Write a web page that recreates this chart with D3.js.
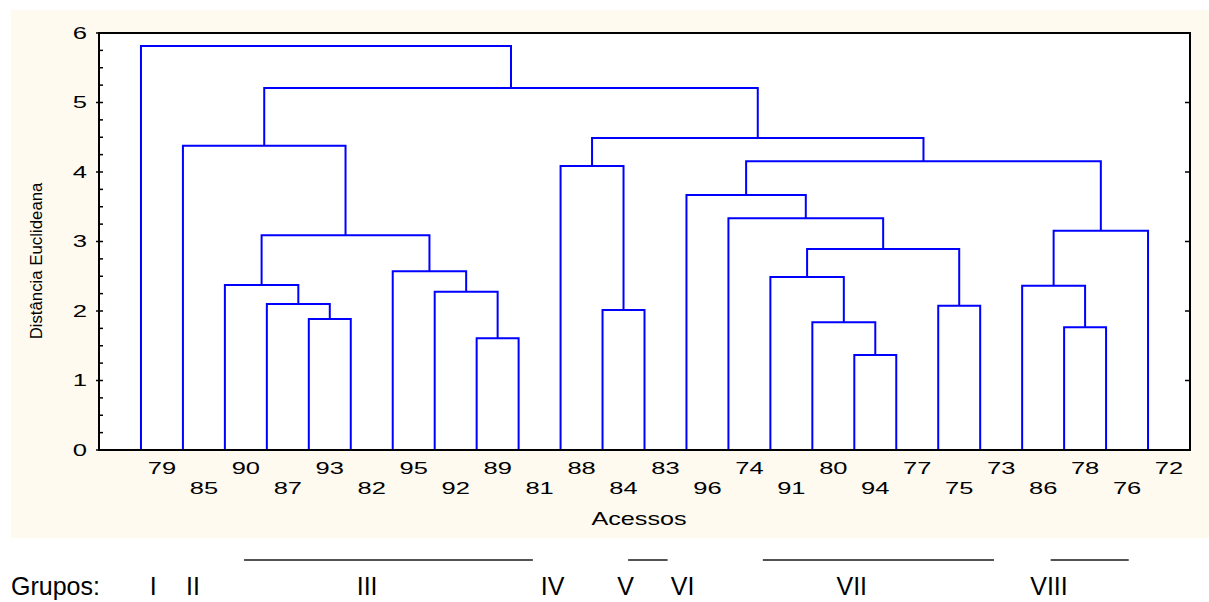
<!DOCTYPE html>
<html><head><meta charset="utf-8">
<script src="https://cdn.jsdelivr.net/npm/d3@7"></script>
<style>html,body{margin:0;padding:0;background:#fff;}svg{display:block;}text{font-family:Arial,"Liberation Sans",sans-serif;fill:#000;}</style>
</head><body><svg id="c" width="1209" height="602"></svg>
<script>
// ---- data ----
const leaves = ["79","85","90","87","93","82","95","92","89","81","88","84","83","96","74","91","80","94","77","75","73","86","78","76","72"];
const mergeLeft  = ["93","87","90","89","92","95","N2","85","84","88","94","80","91","75","N12","74","96","78","86","N18","N16","N9","N7","79"];
const mergeRight = ["82","N0","N1","81","N3","N4","N5","N6","83","N8","77","N10","N11","73","N13","N14","N15","76","N17","72","N19","N20","N21","N22"];
const mergeHeight = [1.885,2.10,2.375,1.607,2.278,2.571,3.089,4.378,2.014,4.086,1.367,1.837,2.489,2.076,2.892,3.334,3.669,1.765,2.364,3.155,4.154,4.489,5.209,5.813];
const yTicks = [0,1,2,3,4,5,6];
const groupNames = ["I","II","III","IV","V","VI","VII","VIII"];
// group annotation anchors, in leaf-index units
const groupAnchor = [0.29,1.24,5.39,9.81,11.55,12.91,16.94,21.64];
const groupLineStart = [2.455,11.61,14.82,21.68];
const groupLineEnd   = [9.34,12.55,20.33,23.54];

// ---- layout ----
const svg = d3.select("#c");
const L = 99, R = 1190, T = 33, B = 450;

svg.append("rect").attr("x",11).attr("y",10).attr("width",1198).attr("height",528).attr("fill","#fffaf0");
svg.append("rect").attr("x",L).attr("y",T).attr("width",R-L).attr("height",B-T).attr("fill","#fff");

const x = d3.scalePoint().domain(leaves).range([L,R]).padding(1);
const y = d3.scaleLinear().domain([0,6]).range([B,T]);
const step = x.step();
const xIdx = d3.scaleLinear().domain([0,leaves.length-1]).range([x(leaves[0]), x(leaves[leaves.length-1])]);

// resolve node positions
const nodeX = {}, nodeH = {};
leaves.forEach(l => { nodeX[l] = x(l); nodeH[l] = 0; });
const links = [];
mergeHeight.forEach((h,i) => {
  const a = mergeLeft[i], b = mergeRight[i];
  const xa = nodeX[a], xb = nodeX[b];
  links.push({xa, xb, ha: nodeH[a], hb: nodeH[b], h});
  nodeX["N"+i] = (xa+xb)/2; nodeH["N"+i] = h;
});

const g = svg.append("g");
g.selectAll("path.link").data(links).join("path")
  .attr("class","link")
  .attr("fill","none").attr("stroke","#0000ff").attr("stroke-width",2)
  .attr("d", d => `M${d.xa},${y(d.ha)}V${y(d.h)}H${d.xb}V${y(d.hb)}`);

// frame
svg.append("rect").attr("x",L).attr("y",T).attr("width",R-L).attr("height",B-T)
  .attr("fill","none").attr("stroke","#000").attr("stroke-width",2);

// y ticks
const minor = d3.range(0,6.001,0.25).filter(v => Math.abs(v-Math.round(v))>1e-6);
svg.selectAll("line.minor").data(minor).join("line")
  .attr("x1",L).attr("x2",L+4).attr("y1",d=>y(d)).attr("y2",d=>y(d))
  .attr("stroke","#000").attr("stroke-width",1.5);
svg.selectAll("line.major").data(yTicks).join("line")
  .attr("x1",L-3).attr("x2",L+4).attr("y1",d=>y(d)).attr("y2",d=>y(d))
  .attr("stroke","#000").attr("stroke-width",1.5);
svg.selectAll("line.majorR").data(yTicks.slice(1,6)).join("line")
  .attr("x1",R-5).attr("x2",R).attr("y1",d=>y(d)).attr("y2",d=>y(d))
  .attr("stroke","#000").attr("stroke-width",1.5);
svg.selectAll("text.yt").data(yTicks).join("text")
  .attr("text-anchor","end").style("font-size","16px")
  .attr("transform",d=>`translate(87,${y(d)+5.8}) scale(1.6,1)`)
  .text(d=>d);

// y title
svg.append("text").attr("text-anchor","middle").style("font-size","16px")
  .attr("transform","translate(42,261) rotate(-90) scale(1.05,1)")
  .text("Distância Euclideana");

// leaf labels
svg.selectAll("text.leaf").data(leaves).join("text")
  .attr("text-anchor","middle").style("font-size","17px")
  .attr("transform",(d,i)=>`translate(${x(d)+step/2},${y(0)+(i%2===0?24:44)}) scale(1.5,1)`)
  .text(d=>d);

svg.append("text").attr("text-anchor","middle").style("font-size","18px")
  .attr("transform",`translate(639,525) scale(1.4,1)`).text("Acessos");

// groups
svg.selectAll("line.grp").data(groupLineStart).join("line")
  .attr("x1",d=>xIdx(d)).attr("x2",(d,i)=>xIdx(groupLineEnd[i]))
  .attr("y1",560).attr("y2",560).attr("stroke","#1a1a1a").attr("stroke-width",1.7);
svg.append("text").attr("x",11).attr("y",595).style("font-size","25px").text("Grupos:");
svg.selectAll("text.gn").data(groupNames).join("text")
  .attr("text-anchor","middle").style("font-size","25px")
  .attr("x",(d,i)=>xIdx(groupAnchor[i])).attr("y",595).text(d=>d);
</script></body></html>
